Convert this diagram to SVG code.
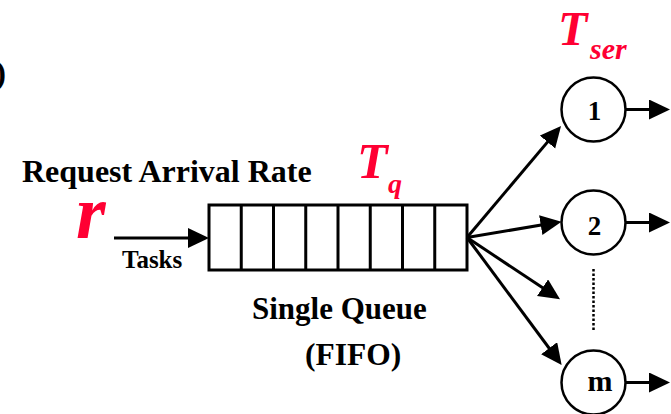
<svg xmlns="http://www.w3.org/2000/svg" width="671" height="414" viewBox="0 0 671 414">
<style>
.lbl{font-family:'Liberation Serif','Times New Roman',Times,'DejaVu Serif',serif;font-weight:700;fill:#000}
.red{font-family:'Liberation Serif','Times New Roman',Times,'DejaVu Serif',serif;font-weight:700;font-style:italic;fill:#ff0033}
.ln{stroke:#000;stroke-width:3;fill:none}
.cell{stroke:#000;stroke-width:3}
.srv{fill:#fff;stroke:#000;stroke-width:2.5}
</style>
<defs>
<marker id="ah" markerUnits="userSpaceOnUse" markerWidth="22" markerHeight="22" refX="11" refY="10" orient="auto">
<path d="M0,0 L21,10 L0,20 z" fill="#000"/>
</marker>
</defs>
<rect width="671" height="414" fill="#fff"/>
<text class="lbl" x="-5" y="84" font-size="33">)</text>
<g id="labels">
<text class="lbl" x="22" y="182" font-size="32">Request Arrival Rate</text>
<text class="red" x="76" y="238" font-size="76">r</text>
<text class="lbl" x="122" y="268" font-size="25">Tasks</text>
<text class="red" x="357" y="178" font-size="50">T</text>
<text class="red" x="388" y="193" font-size="28">q</text>
<text class="red" x="558" y="45" font-size="48">T</text>
<text class="red" x="590" y="59" font-size="30">ser</text>
<text class="lbl" x="252" y="319" font-size="31">Single Queue</text>
<text class="lbl" x="305" y="365" font-size="31.5">(FIFO)</text>
</g>
<g id="queue">
<rect x="209" y="205" width="258" height="65" fill="#fff" stroke="#000" stroke-width="3"/>
<path class="cell" d="M241.25,205V270M273.5,205V270M305.75,205V270M338,205V270M370.25,205V270M402.5,205V270M434.75,205V270"/>
</g>
<g id="connectors">
<line class="ln" x1="114" y1="238" x2="199" y2="238" marker-end="url(#ah)"/>
<line class="ln" x1="467" y1="237.5" x2="554.6" y2="133.6" marker-end="url(#ah)"/>
<line class="ln" x1="467" y1="237.5" x2="551.6" y2="223.3" marker-end="url(#ah)"/>
<line class="ln" x1="467" y1="237.5" x2="551.7" y2="293.8" marker-end="url(#ah)"/>
<line class="ln" x1="467" y1="237.5" x2="555.7" y2="357" marker-end="url(#ah)"/>
<line class="ln" x1="626" y1="109.5" x2="660" y2="109.5" marker-end="url(#ah)"/>
<line class="ln" x1="626" y1="222.5" x2="660" y2="222.5" marker-end="url(#ah)"/>
<line class="ln" x1="626" y1="382.5" x2="660" y2="382.5" marker-end="url(#ah)"/>
<line x1="593.5" y1="269" x2="593.5" y2="332" stroke="#000" stroke-width="2.5" stroke-dasharray="2.5 2"/>
</g>
<g id="server1">
<circle class="srv" cx="593.5" cy="109.5" r="32"/>
<text class="lbl" x="594.5" y="120" font-size="27" text-anchor="middle">1</text>
</g>
<g id="server2">
<circle class="srv" cx="593.5" cy="222.5" r="32"/>
<text class="lbl" x="594.5" y="235" font-size="27" text-anchor="middle">2</text>
</g>
<g id="serverm">
<circle class="srv" cx="593.5" cy="382.5" r="32"/>
<text class="lbl" x="600" y="391" font-size="30" text-anchor="middle">m</text>
</g>
</svg>
